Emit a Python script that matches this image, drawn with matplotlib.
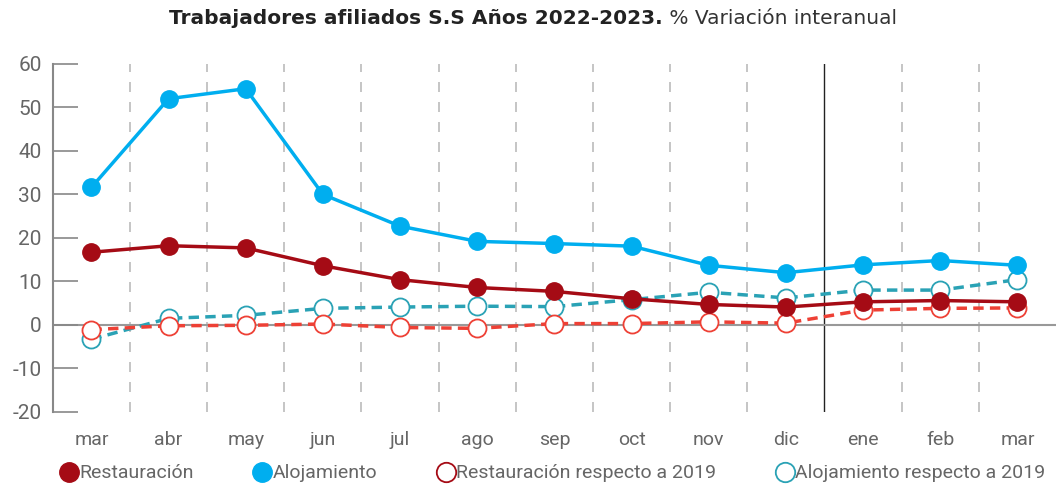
import matplotlib.pyplot as plt
from matplotlib.lines import Line2D

meses = ["mar", "abr", "may", "jun", "jul", "ago", "sep", "oct", "nov", "dic", "ene", "feb", "mar"]

restauracion = [16.7, 18.2, 17.7, 13.6, 10.4, 8.6, 7.7, 6.0, 4.7, 4.1, 5.3, 5.6, 5.3]
alojamiento = [31.6, 52.0, 54.3, 30.0, 22.7, 19.2, 18.7, 18.1, 13.7, 12.0, 13.8, 14.8, 13.7]
restauracion_2019 = [-1.1, -0.2, -0.1, 0.2, -0.6, -0.8, 0.3, 0.3, 0.7, 0.4, 3.4, 3.8, 3.9]
alojamiento_2019 = [-3.3, 1.5, 2.2, 3.8, 4.1, 4.3, 4.2, 5.8, 7.5, 6.2, 8.0, 8.0, 10.4]

yticks = [-20, -10, 0, 10, 20, 30, 40, 50, 60]

C_REST = "#a50b15"
C_ALOJ = "#00aeef"
C_REST19 = "#ee4035"
C_ALOJ19 = "#2aa2b5"
GRIS = "#666666"

narrow = ["Roboto", "DejaVu Sans"]

fig = plt.figure(figsize=(10.56, 4.88), dpi=100)
ax = fig.add_axes([0.050, 0.156, 0.950, 0.713])

x = list(range(len(meses)))

# rejilla vertical discontinua entre meses
for i in range(len(meses) - 1):
    xm = i + 0.5
    if i == 9:
        ax.axvline(xm, color="#222222", lw=1.0, zorder=1)
    else:
        ax.axvline(xm, color="#bbbbbb", lw=1.2, ls=(0, (6, 6)), zorder=1)

ax.axhline(0, color="#999999", lw=1.5, zorder=1)

ax.plot(x, alojamiento_2019, color=C_ALOJ19, lw=2.5, ls=(0, (3, 1.8)), zorder=2,
        marker="o", ms=13, mfc="white", mec=C_ALOJ19, mew=1.3)
ax.plot(x, restauracion_2019, color=C_REST19, lw=2.5, ls=(0, (3, 1.8)), zorder=3,
        marker="o", ms=13, mfc="white", mec=C_REST19, mew=1.3)
ax.plot(x, restauracion, color=C_REST, lw=2.5, zorder=4,
        marker="o", ms=12.5, mfc=C_REST, mec=C_REST)
ax.plot(x, alojamiento, color=C_ALOJ, lw=2.5, zorder=5,
        marker="o", ms=12.5, mfc=C_ALOJ, mec=C_ALOJ)

ax.set_xlim(-0.5, 12.5)
ax.set_ylim(-20, 60)
ax.set_yticks(yticks)
ax.set_yticklabels([str(v) for v in yticks])
ax.set_xticks(x)
ax.set_xticklabels(meses)

for s in ["top", "right", "bottom"]:
    ax.spines[s].set_visible(False)
ax.spines["left"].set_color("#888888")
ax.spines["left"].set_linewidth(1.5)

ax.tick_params(axis="y", direction="in", length=18, width=1.2, color="#888888",
               labelcolor=GRIS, labelsize=15, pad=8)
ax.tick_params(axis="x", length=0, labelcolor=GRIS, labelsize=14, pad=14)
for lab in ax.get_xticklabels() + ax.get_yticklabels():
    lab.set_family(narrow)

# titulo en dos partes
fig.canvas.draw()
t1 = fig.text(0.5, 0.962, "Trabajadores afiliados S.S Años 2022-2023.", fontsize=14.5,
              fontweight="bold", color="#222222", ha="left", va="center")
t2 = fig.text(0.5, 0.962, " % Variación interanual", fontsize=14.5,
              color="#333333", ha="left", va="center")
r = fig.canvas.get_renderer()
w1 = t1.get_window_extent(r).width
w2 = t2.get_window_extent(r).width
W = fig.get_figwidth() * fig.dpi
x0 = 533 - (w1 + w2) / 2
t1.set_x(x0 / W)
t2.set_x((x0 + w1) / W)

handles = [
    Line2D([], [], ls="none", marker="o", ms=14, mfc=C_REST, mec=C_REST),
    Line2D([], [], ls="none", marker="o", ms=14, mfc=C_ALOJ, mec=C_ALOJ),
    Line2D([], [], ls="none", marker="o", ms=14, mfc="white", mec=C_REST, mew=1.3),
    Line2D([], [], ls="none", marker="o", ms=14, mfc="white", mec=C_ALOJ19, mew=1.3),
]
labels = ["Restauración", "Alojamiento", "Restauración respecto a 2019", "Alojamiento respecto a 2019"]
leg = fig.legend(handles, labels, loc="center", bbox_to_anchor=(0.524, 0.03), ncol=4,
                 frameon=False, handlelength=0.8, handletextpad=0.15, columnspacing=3.1,
                 prop={"family": narrow, "size": 14})
for t in leg.get_texts():
    t.set_color(GRIS)

fig.savefig("out.png", dpi=100)
